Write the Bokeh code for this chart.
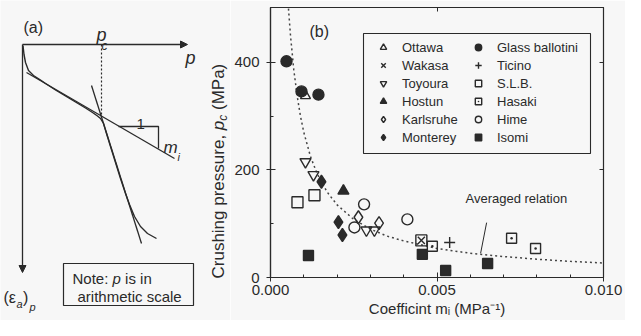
import numpy as np
from bokeh.plotting import figure
from bokeh.models import (Range1d, FixedTicker, LinearAxis, Legend, LegendItem,
                          Label, BoxAnnotation, Arrow, NormalHead, CustomJSTickFormatter)
from bokeh.layouts import row, column
from bokeh.embed import file_html
from bokeh.resources import INLINE
from bokeh.core.properties import value

FONT = "Liberation Sans"
INK = "#2a2a2a"
BG = "#f7f7f7"

# ---------------- panel (b) data: coefficient m_i (1/MPa) vs crushing pressure p_c (MPa)
ottawa_m = [0.00105]
ottawa_pc = [338]
wakasa_m = [0.00453]
wakasa_pc = [69]
toyoura_m = [0.00105, 0.00129, 0.00288, 0.00312]
toyoura_pc = [215, 191, 88, 88]
hostun_m = [0.00219]
hostun_pc = [161]
karlsruhe_m = [0.00264, 0.00326]
karlsruhe_pc = [112, 101]
monterey_m = [0.00153, 0.00204, 0.00216]
monterey_pc = [178, 103, 79]
glass_m = [0.00048, 0.00093, 0.00144]
glass_pc = [402, 346, 340]
ticino_m = [0.00538]
ticino_pc = [65]
slb_m = [0.00081, 0.00132, 0.00453]
slb_pc = [140, 153, 69]
hasaki_m = [0.00486, 0.00724, 0.00796]
hasaki_pc = [58, 73, 54]
hime_m = [0.00252, 0.00281, 0.00411]
hime_pc = [93, 136, 108]
isomi_m = [0.00114, 0.00456, 0.00526, 0.00652]
isomi_pc = [41, 43, 13, 26]

# averaged relation (dotted curve)
avg_m = [0.00054, 0.0006, 0.0007, 0.0008, 0.0009, 0.0010, 0.0012, 0.0014, 0.0017,
         0.0020, 0.0025, 0.0030, 0.0035, 0.0040, 0.0050, 0.0060, 0.0070, 0.0080,
         0.0090, 0.0100]
avg_pc = [500, 450, 386, 338, 300, 270, 225, 193, 159, 135, 108, 90, 77, 68, 54,
          45, 39, 34, 30, 27]
leader_m = [0.00649, 0.00631]
leader_pc = [102, 45]

x_ticks = [0.0, 0.005, 0.010]
x_tick_labels = ["0.000", "0.005", "0.010"]
x_minor = [0.001, 0.002, 0.003, 0.004, 0.006, 0.007, 0.008, 0.009]
y_ticks = [0, 200, 400]
y_tick_labels = ["0", "200", "400"]
y_minor = [100, 300]
x_title = "Coefficint mᵢ (MPa⁻¹)"

# ---------------- panel (a) schematic (drawing units = pixels, y downward)
v_axis_x = [22, 22]
v_axis_y = [44, 272]
h_axis_x = [22, 187]
h_axis_y = [44, 44]
pc_drop_x = [101, 101]
pc_drop_y = [44, 115]
tan1_x = [26, 174]
tan1_y = [72, 158]
tan2_x = [91, 141]
tan2_y = [85, 243]
slope_x = [118, 158, 158]
slope_y = [126, 126, 148]
curve_x = [22.5, 23.5, 25, 28, 33, 40, 45, 55, 65, 75, 85, 92, 97, 100, 103, 106,
           110, 115, 120, 125, 129, 134, 140, 147, 156]
curve_y = [45, 54, 62, 70, 75, 79.5, 83, 89.5, 95.5, 101.5, 107.5, 112, 115.5, 118,
           123, 133, 146, 162, 178, 193, 204, 216, 226, 233, 238]
note_box = dict(left=63, right=193, top=263, bottom=305)

# ====================== layout sizes
H = 320
PA_W = 230
PB_W = 395
FR_L, FR_T, FR_W, FR_B = 270, 7, 333, 277      # frame of panel (b) in canvas pixels
Y_TOP = 502


def ta(fig, x, y, t, size, style="normal", angle=0):
    fig.text(x=[x], y=[y], text=[t], text_font=value(FONT), text_font_size=size,
             text_font_style=style, text_color=INK, text_align="left",
             text_baseline="alphabetic", angle=angle)


# ====================== panel (a) (also carries the y title of panel b)
pa = figure(width=PA_W, height=H, x_range=Range1d(0, PA_W), y_range=Range1d(H, 0), title=None,
            output_backend="svg", toolbar_location=None, min_border=0,
            x_axis_location=None, y_axis_location=None)
pa.grid.visible = False
pa.outline_line_color = None
pa.background_fill_color = BG
pa.border_fill_color = BG

for xs, ys in ((v_axis_x, v_axis_y), (h_axis_x, h_axis_y)):
    pa.add_layout(Arrow(end=NormalHead(size=7, fill_color=INK, line_color=INK, line_width=1),
                        x_start=xs[0], y_start=ys[0], x_end=xs[1], y_end=ys[1],
                        line_color=INK, line_width=1.3))
pa.line(pc_drop_x, pc_drop_y, line_color=INK, line_width=1.2, line_dash="2 2")
pa.line(tan1_x, tan1_y, line_color=INK, line_width=1.3)
pa.line(tan2_x, tan2_y, line_color=INK, line_width=1.3)
pa.line(slope_x, slope_y, line_color=INK, line_width=1.3)
pa.line(curve_x, curve_y, line_color=INK, line_width=1.4)
pa.quad(left=[note_box["left"]], right=[note_box["right"]], top=[note_box["top"]],
        bottom=[note_box["bottom"]], fill_alpha=0, line_color=INK, line_width=1.2)

ta(pa, 23, 27, "(a)", "16px")
ta(pa, 96, 34, "p", "18px", "italic")
ta(pa, 101, 45, "c", "12px", "italic")
ta(pa, 185, 57, "p", "18px", "italic")
ta(pa, 136, 123, "1", "15px")
ta(pa, 163, 147, "m", "17px", "italic")
ta(pa, 177, 156, "i", "11px", "italic")
ta(pa, 72, 278, "Note:", "15px")
ta(pa, 112, 278, "p", "15px", "italic")
ta(pa, 124.6, 278, "is in", "15px")
ta(pa, 77, 296, "arithmetic scale", "15px")
ta(pa, 3, 297, "(ε", "16px")
ta(pa, 16, 303, "a", "11px", "italic")
ta(pa, 22.5, 297, ")", "16px")
ta(pa, 29, 306, "p", "11px", "italic")

# y title of panel (b), reading upward
up = np.pi / 2
ta(pa, 218, 278, "Crushing pressure,", "17px", angle=up)
ta(pa, 218, 129.7, "p", "17px", "italic", angle=up)
ta(pa, 222, 120.2, "c", "12px", "italic", angle=up)
ta(pa, 218, 109.5, "(MPa)", "17px", angle=up)

# ====================== panel (b)
pb = figure(width=PB_W, height=H, x_range=Range1d(0, 0.010), y_range=Range1d(0, Y_TOP),
            title=None, output_backend="svg", toolbar_location=None,
            min_border_left=FR_L - PA_W, min_border_right=PB_W - (FR_L - PA_W) - FR_W,
            min_border_top=FR_T, min_border_bottom=H - FR_B)
pb.grid.visible = False
pb.background_fill_color = BG
pb.border_fill_color = BG
pb.outline_line_color = INK
pb.outline_line_width = 1.2

pb.xaxis.ticker = FixedTicker(ticks=x_ticks, minor_ticks=x_minor)
pb.xaxis.major_label_overrides = dict(zip(x_ticks, x_tick_labels))
pb.yaxis.ticker = FixedTicker(ticks=y_ticks, minor_ticks=y_minor)
pb.yaxis.major_label_overrides = dict(zip(y_ticks, y_tick_labels))
for ax in (pb.xaxis[0], pb.yaxis[0]):
    ax.axis_line_color = INK
    ax.axis_line_width = 1.2
    ax.major_tick_line_color = INK
    ax.minor_tick_line_color = INK
    ax.major_tick_in = 5
    ax.major_tick_out = 4
    ax.minor_tick_in = 3
    ax.minor_tick_out = 0
    ax.major_label_text_font = FONT
    ax.major_label_text_font_size = "15px"
    ax.major_label_text_color = INK
pb.xaxis.major_label_standoff = 3
pb.yaxis.major_label_standoff = 7
pb.xaxis.axis_label = x_title
pb.xaxis.axis_label_text_font = FONT
pb.xaxis.axis_label_text_font_size = "15px"
pb.xaxis.axis_label_text_font_style = "normal"
pb.xaxis.axis_label_text_color = INK
pb.xaxis.axis_label_standoff = 2

blank = CustomJSTickFormatter(code="return ''")
for loc, tk in (("right", FixedTicker(ticks=y_ticks, minor_ticks=y_minor)),
                ("above", FixedTicker(ticks=x_ticks, minor_ticks=x_minor))):
    ax = LinearAxis(ticker=tk, formatter=blank, major_label_text_font_size="1px",
                    major_label_standoff=0, major_tick_in=4, major_tick_out=0,
                    minor_tick_in=0, minor_tick_out=0,
                    axis_line_color=INK, major_tick_line_color=INK)
    pb.add_layout(ax, loc)

pb.line(avg_m, avg_pc, line_color="#444444", line_width=1.5, line_dash="2 3")
pb.line(leader_m, leader_pc, line_color=INK, line_width=1)


def sc(m, pc, marker, filled, size, lw=1.4):
    return pb.scatter(m, pc, marker=marker, size=size, line_color=INK, line_width=lw,
                      fill_color=INK if filled else None)


r_ott = sc(ottawa_m, ottawa_pc, "triangle", False, 10)
r_wak = sc(wakasa_m, wakasa_pc, "x", False, 10)
r_toy = sc(toyoura_m, toyoura_pc, "inverted_triangle", False, 11)
r_hos = sc(hostun_m, hostun_pc, "triangle", True, 11)
r_kar = sc(karlsruhe_m, karlsruhe_pc, "diamond", False, 13)
r_mon = sc(monterey_m, monterey_pc, "diamond", True, 13)
r_gla = sc(glass_m, glass_pc, "circle", True, 11)
r_tic = sc(ticino_m, ticino_pc, "cross", False, 11)
r_slb = sc(slb_m, slb_pc, "square", False, 11)
r_has = sc(hasaki_m, hasaki_pc, "square_dot", False, 10)
r_him = sc(hime_m, hime_pc, "circle", False, 11)
r_iso = sc(isomi_m, isomi_pc, "square", True, 10)


def bx(px_):
    return (px_ - FR_L) / FR_W * 0.010


def by(py_):
    return (FR_B - py_) / (FR_B - FR_T) * Y_TOP


pb.add_layout(BoxAnnotation(left=bx(363), right=bx(590), top=by(33), bottom=by(153),
                            fill_alpha=0, line_color=INK, line_width=1.1, line_alpha=1))

leg_kw = dict(orientation="vertical", glyph_width=16, glyph_height=16, label_height=16,
              spacing=2, padding=0, margin=0, label_standoff=11, border_line_alpha=0,
              background_fill_alpha=0, label_text_font=FONT, label_text_font_size="13px",
              label_text_color=INK)
leg1 = Legend(items=[LegendItem(label="Ottawa", renderers=[r_ott]),
                     LegendItem(label="Wakasa", renderers=[r_wak]),
                     LegendItem(label="Toyoura", renderers=[r_toy]),
                     LegendItem(label="Hostun", renderers=[r_hos]),
                     LegendItem(label="Karlsruhe", renderers=[r_kar]),
                     LegendItem(label="Monterey", renderers=[r_mon])],
              location=(375 - FR_L, FR_B - 145), **leg_kw)
leg2 = Legend(items=[LegendItem(label="Glass ballotini", renderers=[r_gla]),
                     LegendItem(label="Ticino", renderers=[r_tic]),
                     LegendItem(label="S.L.B.", renderers=[r_slb]),
                     LegendItem(label="Hasaki", renderers=[r_has]),
                     LegendItem(label="Hime", renderers=[r_him]),
                     LegendItem(label="Isomi", renderers=[r_iso])],
              location=(470 - FR_L, FR_B - 145), **leg_kw)
pb.add_layout(leg1)
pb.add_layout(leg2)

pb.add_layout(Label(x=bx(309), y=by(39), text="(b)", text_font=FONT, text_font_size="16px",
                    text_color=INK))
pb.add_layout(Label(x=bx(465), y=by(205), text="Averaged relation", text_font=FONT,
                    text_font_size="13px", text_color=INK))

# panel (b) wrapped in its own column so the row does not re-align panel (a)'s frame
layout = row(pa, column(pb))
open("out.html", "w").write(file_html(layout, INLINE))
